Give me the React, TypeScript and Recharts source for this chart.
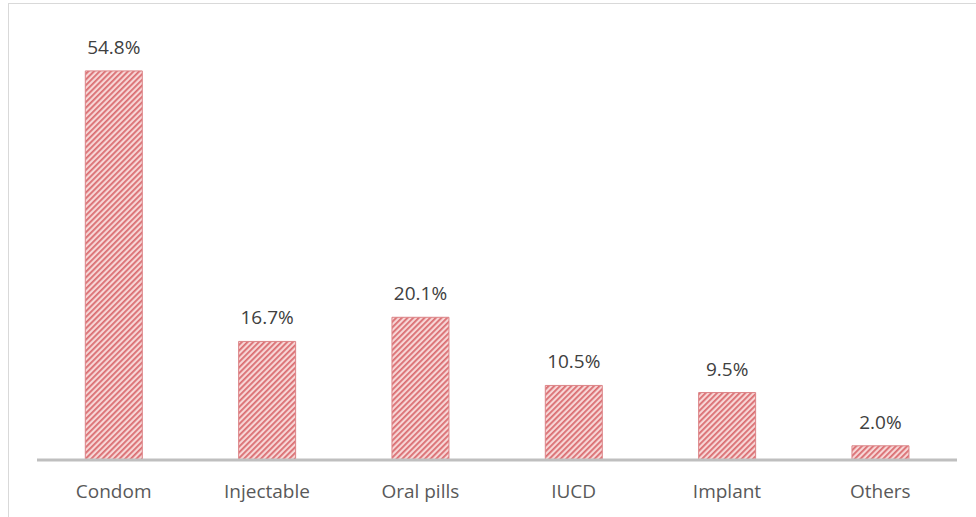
import React from 'react';
import { BarChart, Bar, XAxis, YAxis, LabelList } from 'recharts';

const methods = ['Condom', 'Injectable', 'Oral pills', 'IUCD', 'Implant', 'Others'];
const shares = [54.8, 16.7, 20.1, 10.5, 9.5, 2.0];

const data = methods.map((m, i) => ({ method: m, share: shares[i] }));

const FONT = '"Open Sans", "Liberation Sans", sans-serif';

const App: React.FC = () => {
  return (
    <div style={{ position: 'absolute', left: 0, top: 0, width: 976, height: 517, background: '#fff' }}>
      <div
        style={{
          position: 'absolute',
          left: 8,
          top: 3,
          right: 0,
          bottom: 0,
          borderLeft: '1px solid #d9d9d9',
          borderTop: '1px solid #d9d9d9',
        }}
      />
      <div style={{ position: 'absolute', left: 0, top: 0 }}>
        <BarChart
          width={976}
          height={517}
          data={data}
          margin={{ top: 34, right: 19, left: 37, bottom: 27 }}
          barCategoryGap="31.5%"
        >
          <defs>
            <pattern id="hatch" width="4" height="4" patternUnits="userSpaceOnUse" patternTransform="rotate(45)">
              <rect width="4" height="4" fill="#f7d6d6" />
              <rect width="1.8" height="4" fill="#da6d71" />
            </pattern>
          </defs>
          <XAxis
            dataKey="method"
            axisLine={{ stroke: '#bfbfbf', strokeWidth: 3 }}
            tickLine={false}
            tick={{ fill: '#595959', fontSize: 19, fontFamily: FONT }}
            tickMargin={19}
          />
          <YAxis hide domain={[0, 60]} />
          <Bar dataKey="share" fill="url(#hatch)" stroke="#dc8487" strokeWidth={1} isAnimationActive={false}>
            <LabelList
              dataKey="share"
              position="top"
              offset={17}
              formatter={(v: number) => `${v.toFixed(1)}%`}
              style={{ fill: '#404040', fontSize: 19, fontFamily: FONT }}
            />
          </Bar>
        </BarChart>
      </div>
    </div>
  );
};

export default App;
